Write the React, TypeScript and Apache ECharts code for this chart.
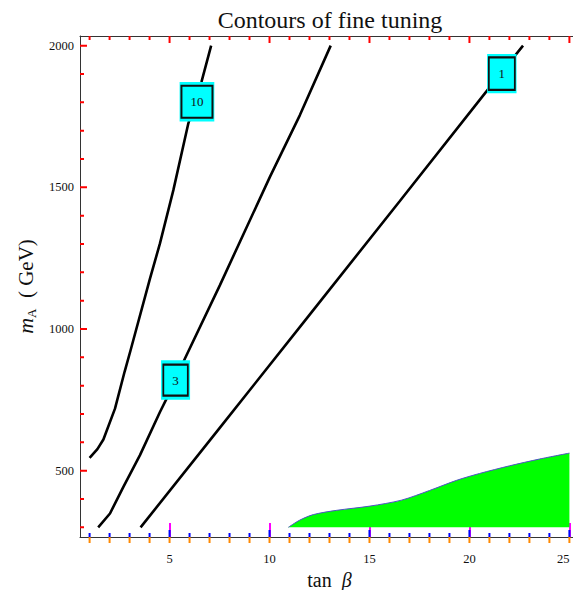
import React, { useEffect, useRef } from "react";
import * as echarts from "echarts";

// ---- data ----
const curve10X = [1.0, 1.39, 1.69, 2.27, 2.75, 3.05, 4.02, 4.52, 5.19, 5.94, 6.6, 7.08];
const curve10Y = [545, 576, 610, 719, 849, 925, 1178, 1302, 1490, 1726, 1873, 2000];

const curve3X = [1.43, 2.02, 2.69, 3.52, 4.52, 5.02, 5.77, 7.52, 10.02, 11.52, 13.06];
const curve3Y = [300, 349, 443, 555, 707, 778, 896, 1155, 1537, 1755, 2000];

const curve1X = [3.55, 7.52, 12.0, 16.5, 20.9, 22.68];
const curve1Y = [300, 652, 1050, 1450, 1843, 2000];

const greenX = [10.94, 11.5, 12.19, 13.35, 15.02, 16.6, 18.0, 19.36, 20.5, 22.0, 23.5, 25.0];
const greenY = [300, 325, 345, 360, 375, 396, 430, 466, 490, 517, 541, 562];
const greenBase = 300;

const contourLabels = ["10", "3", "1"];
const contourLabelX = [6.37, 5.3, 21.62];
const contourLabelY = [1802, 820, 1901];

const xMajorTicks = [5, 10, 15, 20, 25];
const xMinorTicks = [1, 2, 3, 4, 6, 7, 8, 9, 11, 12, 13, 14, 16, 17, 18, 19, 21, 22, 23, 24];
const yMajorTicks = [500, 1000, 1500, 2000];
const yMinorTicks = [300, 400, 600, 700, 800, 900, 1100, 1200, 1300, 1400, 1600, 1700, 1800, 1900];

const xRange = [0.52, 25.48];
const yRange = [266, 2034];

const titleText = "Contours of fine tuning";

// ---- styles ----
const FONT = '"Liberation Serif", "Times New Roman", Times, serif';
const AXIS_COLOR = "#333";
const BOX_SIZES: number[][] = [[31, 32], [24.5, 31], [26, 32.5]];
const HALO_SIZES: number[][] = [[34.7, 39.3], [29, 39.3], [29.4, 39.3]];
const MAJOR_LEN = 7;
const MINOR_LEN = 4;
const GRID = { left: 80, top: 36, width: 499, height: 501 };

const pairs = (xs: number[], ys: number[]) => xs.map((x, i) => [x, ys[i]]);

const yPerPx = (yRange[1] - yRange[0]) / GRID.height;
const xPerPx = (xRange[1] - xRange[0]) / GRID.width;

function xTickSegments(values: number[], lenPx: number, atTop: boolean) {
  const out: any[] = [];
  const base = atTop ? yRange[1] : yRange[0];
  const tip = atTop ? base - lenPx * yPerPx : base + lenPx * yPerPx;
  values.forEach((v) => {
    out.push([v, base], [v, tip], [v, "-"]);
  });
  return out;
}
function yTickSegments(values: number[], lenPx: number) {
  const out: any[] = [];
  values.forEach((v) => {
    out.push([xRange[0], v], [xRange[0] + lenPx * xPerPx, v], ["-", v]);
  });
  return out;
}

export default function App() {
  const ref = useRef<HTMLDivElement>(null);

  useEffect(() => {
    if (!ref.current) return;
    const chart = echarts.init(ref.current, null, { renderer: "svg" });

    const axisLine = { show: true, onZero: false, lineStyle: { color: AXIS_COLOR, width: 1 } };

    const curveSeries = (data: number[][]) => ({
      type: "line",
      data,
      symbol: "none",
      smooth: false,
      lineStyle: { color: "#000", width: 2.6 },
      z: 3,
      animation: false,
    });

    const tickSeries = (data: any[], color: string) => ({
      type: "line",
      data,
      symbol: "none",
      connectNulls: false,
      clip: false,
      lineStyle: { color, width: 2 },
      z: 10,
      silent: true,
      animation: false,
    });

    const boxData = (sizes: number[][]) =>
      contourLabelX.map((x, i) => ({
        value: [x, contourLabelY[i]],
        symbolSize: sizes[i],
        name: contourLabels[i],
      }));

    // diagnostic: scatter ticks below the bottom axis (orange)
    const scatterBottom = [...xMajorTicks, ...xMinorTicks].map((v) => ({
      value: [v, yRange[0]],
      symbolSize: [2, 6],
      symbolOffset: [0, 3],
    }));

    const option: any = {
      animation: false,
      backgroundColor: "#fff",
      grid: { ...GRID, containLabel: false, outerBoundsMode: "none" },
      graphic: [
        {
          type: "text",
          x: 330,
          y: 20,
          style: {
            text: titleText,
            font: `24px ${FONT}`,
            fill: "#111",
            textAlign: "center",
            textVerticalAlign: "middle",
          },
        },
      ],
      xAxis: [
        {
          type: "value",
          position: "bottom",
          min: xRange[0],
          max: xRange[1],
          splitLine: { show: false },
          axisLine,
          axisTick: { show: true, inside: true, length: 14, customValues: xMajorTicks, lineStyle: { color: "#ff00ff", width: 2 } },
          axisLabel: {
            show: true,
            customValues: xMajorTicks,
            alignMaxLabel: "right",
            margin: 15,
            fontSize: 12.5,
            fontFamily: FONT,
            color: "#111",
            formatter: (v: number) => String(v),
          },
          name: "{t|tan}  {b|β}",
          nameLocation: "middle",
          nameGap: 31,
          nameTextStyle: {
            fontFamily: FONT,
            fontSize: 20,
            color: "#111",
            rich: {
              t: { fontFamily: FONT, fontSize: 20, color: "#111" },
              b: { fontFamily: FONT, fontSize: 20, fontStyle: "italic", color: "#111" },
            },
          },
        },
        {
          type: "value",
          position: "top",
          min: xRange[0],
          max: xRange[1],
          splitLine: { show: false },
          axisLine,
          axisTick: { show: false },
          axisLabel: { show: false },
        },
      ],
      yAxis: [
        {
          type: "value",
          position: "left",
          min: yRange[0],
          max: yRange[1],
          splitLine: { show: false },
          axisLine,
          axisTick: { show: false },
          axisLabel: {
            show: true,
            customValues: yMajorTicks,
            margin: 6,
            fontSize: 12.5,
            fontFamily: FONT,
            color: "#111",
            formatter: (v: number) => String(v),
          },
          name: "{m|m}{s|A}{t|  ( GeV)}",
          nameLocation: "middle",
          nameRotate: 90,
          nameGap: 42,
          nameTextStyle: {
            fontFamily: FONT,
            fontSize: 20,
            color: "#111",
            rich: {
              m: { fontFamily: FONT, fontSize: 22, fontStyle: "italic", color: "#111" },
              s: { fontFamily: FONT, fontSize: 13, color: "#111", padding: [12, 0, 0, 0] },
              t: { fontFamily: FONT, fontSize: 21, color: "#111" },
            },
          },
        },
      ],
      series: [
        {
          type: "line",
          data: pairs(greenX, greenY),
          symbol: "none",
          smooth: 0.3,
          lineStyle: { color: "#5050c8", width: 1 },
          areaStyle: { color: "#00ff00", opacity: 1, origin: greenBase },
          z: 2,
          animation: false,
        },
        curveSeries(pairs(curve10X, curve10Y)),
        curveSeries(pairs(curve3X, curve3Y)),
        curveSeries(pairs(curve1X, curve1Y)),
        {
          type: "scatter",
          data: boxData(HALO_SIZES),
          symbol: "rect",
          itemStyle: { color: "#00ffff", opacity: 1 },
          z: 4,
          silent: true,
          animation: false,
        },
        {
          type: "scatter",
          data: boxData(BOX_SIZES),
          symbol: "rect",
          itemStyle: { color: "#00ffff", borderColor: "#111", borderWidth: 2, opacity: 1 },
          label: {
            show: true,
            position: "inside",
            formatter: (p: any) => p.name,
            fontFamily: FONT,
            fontSize: 13,
            color: "#111",
          },
          z: 5,
          silent: true,
          animation: false,
        },
        tickSeries(xTickSegments(xMajorTicks, MAJOR_LEN, true), "#ff0000"),
        tickSeries(xTickSegments(xMinorTicks, MINOR_LEN, true), "#ff0000"),
        tickSeries(yTickSegments(yMajorTicks, MAJOR_LEN), "#ff0000"),
        tickSeries(yTickSegments(yMinorTicks, MINOR_LEN), "#ff0000"),
        tickSeries(xTickSegments(xMajorTicks, MAJOR_LEN, false), "#0000ff"),
        tickSeries(xTickSegments(xMinorTicks, MINOR_LEN, false), "#0000ff"),
        {
          type: "scatter",
          data: scatterBottom,
          symbol: "rect",
          clip: false,
          itemStyle: { color: "#ff8800", opacity: 1 },
          z: 11,
          silent: true,
          animation: false,
        },
      ],
    };

    chart.setOption(option);
    return () => chart.dispose();
  }, []);

  return (
    <div
      ref={ref}
      style={{ position: "fixed", left: 0, top: 0, width: 573, height: 590, background: "#fff" }}
    />
  );
}
